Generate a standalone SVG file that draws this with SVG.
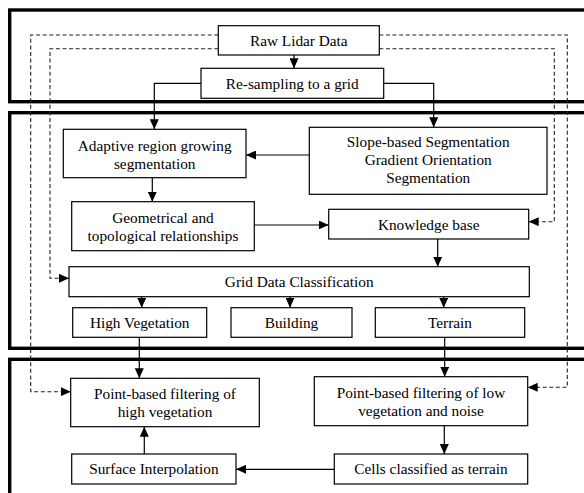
<svg xmlns="http://www.w3.org/2000/svg" width="584" height="493" viewBox="0 0 584 493">
<style>
.frame{fill:none;stroke:#000;stroke-width:3.4}
.box{fill:#fff;stroke:#000;stroke-width:1.2}
.t{font-family:"Liberation Serif","Times New Roman",serif;font-size:15.3px;fill:#000;text-anchor:middle}
.c{fill:none;stroke:#000;stroke-width:1.2}
.d{fill:none;stroke:#222;stroke-width:1.1;stroke-dasharray:4,2.6}
</style>
<defs>
<marker id="ah" markerUnits="userSpaceOnUse" markerWidth="10" markerHeight="9" refX="10" refY="4.5" orient="auto" viewBox="0 0 10 9">
<path d="M0,0 L10,4.5 L0,9 z" fill="#000"/>
</marker>
</defs>
<rect width="584" height="493" fill="#fff"/>
<g id="frames">
<rect class="frame" x="9.7" y="10" width="600" height="91.7"/>
<rect class="frame" x="9.7" y="112.7" width="600" height="235.6"/>
<rect class="frame" x="9.7" y="359.3" width="600" height="160"/>
</g>
<g id="connectors">
<path class="d" d="M218.3,35 H30.7 V391.7 H70.7" marker-end="url(#ah)"/>
<path class="d" d="M379.3,35 H567.3 V387.3 H527.7" marker-end="url(#ah)"/>
<path class="d" d="M218.3,48.7 H50 V278.3 H69" marker-end="url(#ah)"/>
<path class="d" d="M379.3,48.7 H554.3 V221.7 H528.7" marker-end="url(#ah)"/>
<path class="c" d="M294,55 V68.3" marker-end="url(#ah)"/>
<path class="c" d="M201,83.3 H154.3 V129.3" marker-end="url(#ah)"/>
<path class="c" d="M383.7,83.3 H433.7 V127.3" marker-end="url(#ah)"/>
<path class="c" d="M309.3,155 H246" marker-end="url(#ah)"/>
<path class="c" d="M152.3,177.7 V201.7" marker-end="url(#ah)"/>
<path class="c" d="M254.3,225 H328.7" marker-end="url(#ah)"/>
<path class="c" d="M437.7,239 V266.7" marker-end="url(#ah)"/>
<path class="c" d="M141.7,296.7 V307.7" marker-end="url(#ah)"/>
<path class="c" d="M290,296.7 V307.7" marker-end="url(#ah)"/>
<path class="c" d="M443.7,296.7 V307.7" marker-end="url(#ah)"/>
<path class="c" d="M139.3,337.3 V378.3" marker-end="url(#ah)"/>
<path class="c" d="M444.7,337.3 V376.7" marker-end="url(#ah)"/>
<path class="c" d="M444.3,425.7 V454" marker-end="url(#ah)"/>
<path class="c" d="M334.3,469.3 H236" marker-end="url(#ah)"/>
<path class="c" d="M144.3,454 V426.7" marker-end="url(#ah)"/>
</g>
<g id="raw">
<rect class="box" x="218.3" y="25.7" width="161" height="29.3"/>
<text class="t" x="298.8" y="45.5">Raw Lidar Data</text>
</g>
<g id="resample">
<rect class="box" x="201" y="68.3" width="182.7" height="30"/>
<text class="t" x="292.3" y="88.5">Re-sampling to a grid</text>
</g>
<g id="adaptive">
<rect class="box" x="63.3" y="129.3" width="182.7" height="48.4"/>
<text class="t" x="154.7" y="150.5">Adaptive region growing</text>
<text class="t" x="154.7" y="168.5">segmentation</text>
</g>
<g id="slope">
<rect class="box" x="309.3" y="127.3" width="237.7" height="67"/>
<text class="t" x="428.2" y="146.7">Slope-based Segmentation</text>
<text class="t" x="428.2" y="165">Gradient Orientation</text>
<text class="t" x="428.2" y="183.3">Segmentation</text>
</g>
<g id="geom">
<rect class="box" x="71.7" y="201.7" width="182.6" height="49"/>
<text class="t" x="163" y="222.5">Geometrical and</text>
<text class="t" x="163" y="240.5">topological relationships</text>
</g>
<g id="kb">
<rect class="box" x="328.7" y="209.3" width="200" height="29.7"/>
<text class="t" x="428.7" y="229.5">Knowledge base</text>
</g>
<g id="grid">
<rect class="box" x="69" y="266.7" width="460.3" height="30"/>
<text class="t" x="299.2" y="287">Grid Data Classification</text>
</g>
<g id="highveg">
<rect class="box" x="72.7" y="307.7" width="134" height="29.6"/>
<text class="t" x="139.7" y="327.8">High Vegetation</text>
</g>
<g id="building">
<rect class="box" x="231" y="307.7" width="121" height="29.6"/>
<text class="t" x="291.5" y="327.8">Building</text>
</g>
<g id="terrain">
<rect class="box" x="375.3" y="307.7" width="149.4" height="29.6"/>
<text class="t" x="450" y="327.8">Terrain</text>
</g>
<g id="pbhigh">
<rect class="box" x="70.7" y="378.3" width="188.6" height="48.4"/>
<text class="t" x="165" y="398.5">Point-based filtering of</text>
<text class="t" x="165" y="416.5">high vegetation</text>
</g>
<g id="pblow">
<rect class="box" x="314.3" y="376.7" width="213.4" height="49"/>
<text class="t" x="421" y="397.5">Point-based filtering of low</text>
<text class="t" x="421" y="415.5">vegetation and noise</text>
</g>
<g id="surface">
<rect class="box" x="71.7" y="454" width="164.3" height="30"/>
<text class="t" x="153.9" y="474.3">Surface Interpolation</text>
</g>
<g id="cells">
<rect class="box" x="334.3" y="454" width="193.4" height="30"/>
<text class="t" x="431" y="474.3">Cells classified as terrain</text>
</g>
</svg>
